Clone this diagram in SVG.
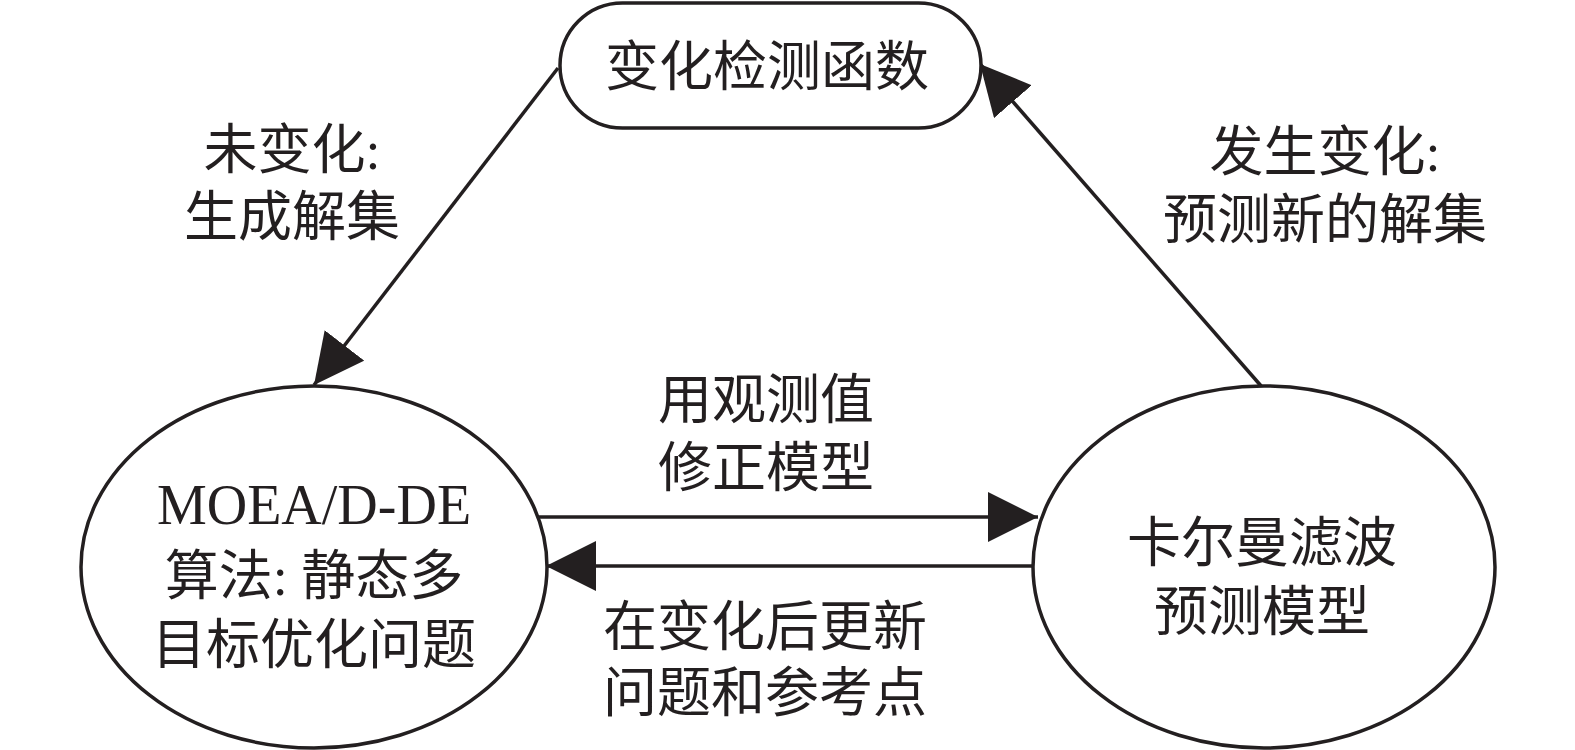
<svg xmlns="http://www.w3.org/2000/svg" width="1575" height="750" viewBox="0 0 1575 750">
<style>
.shape{fill:#fff;stroke:#231f20;stroke-width:3.5}
.conn{stroke:#231f20;stroke-width:3.5;fill:none}
text{font-family:"Liberation Serif","Noto Sans CJK SC",serif;font-size:54px;fill:#231f20;text-anchor:middle}
.latin{font-size:56px}
</style>
<defs>
<marker id="ah" markerUnits="userSpaceOnUse" markerWidth="52" markerHeight="52" refX="50" refY="25" orient="auto" viewBox="0 0 52 52">
<path d="M0,0 L50,25 L0,50 Z" fill="#231f20"/>
</marker>
</defs>
<rect width="1575" height="750" fill="#fff"/>
<g id="connectors">
<line class="conn" x1="558" y1="68" x2="314" y2="385" marker-end="url(#ah)"/>
<line class="conn" x1="1262" y1="387" x2="980" y2="64" marker-end="url(#ah)"/>
<line class="conn" x1="537" y1="517" x2="1038" y2="517" marker-end="url(#ah)"/>
<line class="conn" x1="1033" y1="566" x2="546" y2="566" marker-end="url(#ah)"/>
</g>
<g id="node-detect">
<rect class="shape" x="560" y="3" width="421" height="125" rx="62.5" ry="62.5"/>
<text x="767" y="86">变化检测函数</text>
</g>
<g id="node-moead">
<ellipse class="shape" cx="314" cy="567" rx="233" ry="181"/>
<text class="latin" x="314" y="524">MOEA/D-DE</text>
<text x="314" y="595">算法: 静态多</text>
<text x="314" y="664">目标优化问题</text>
</g>
<g id="node-kalman">
<ellipse class="shape" cx="1264" cy="567" rx="231" ry="181"/>
<text x="1262" y="562">卡尔曼滤波</text>
<text x="1262" y="631">预测模型</text>
</g>
<g id="labels">
<text x="292" y="169">未变化:</text>
<text x="292" y="236">生成解集</text>
<text x="1325" y="171">发生变化:</text>
<text x="1325" y="239">预测新的解集</text>
<text x="766" y="419">用观测值</text>
<text x="766" y="487">修正模型</text>
<text x="765" y="646">在变化后更新</text>
<text x="765" y="712">问题和参考点</text>
</g>
</svg>
